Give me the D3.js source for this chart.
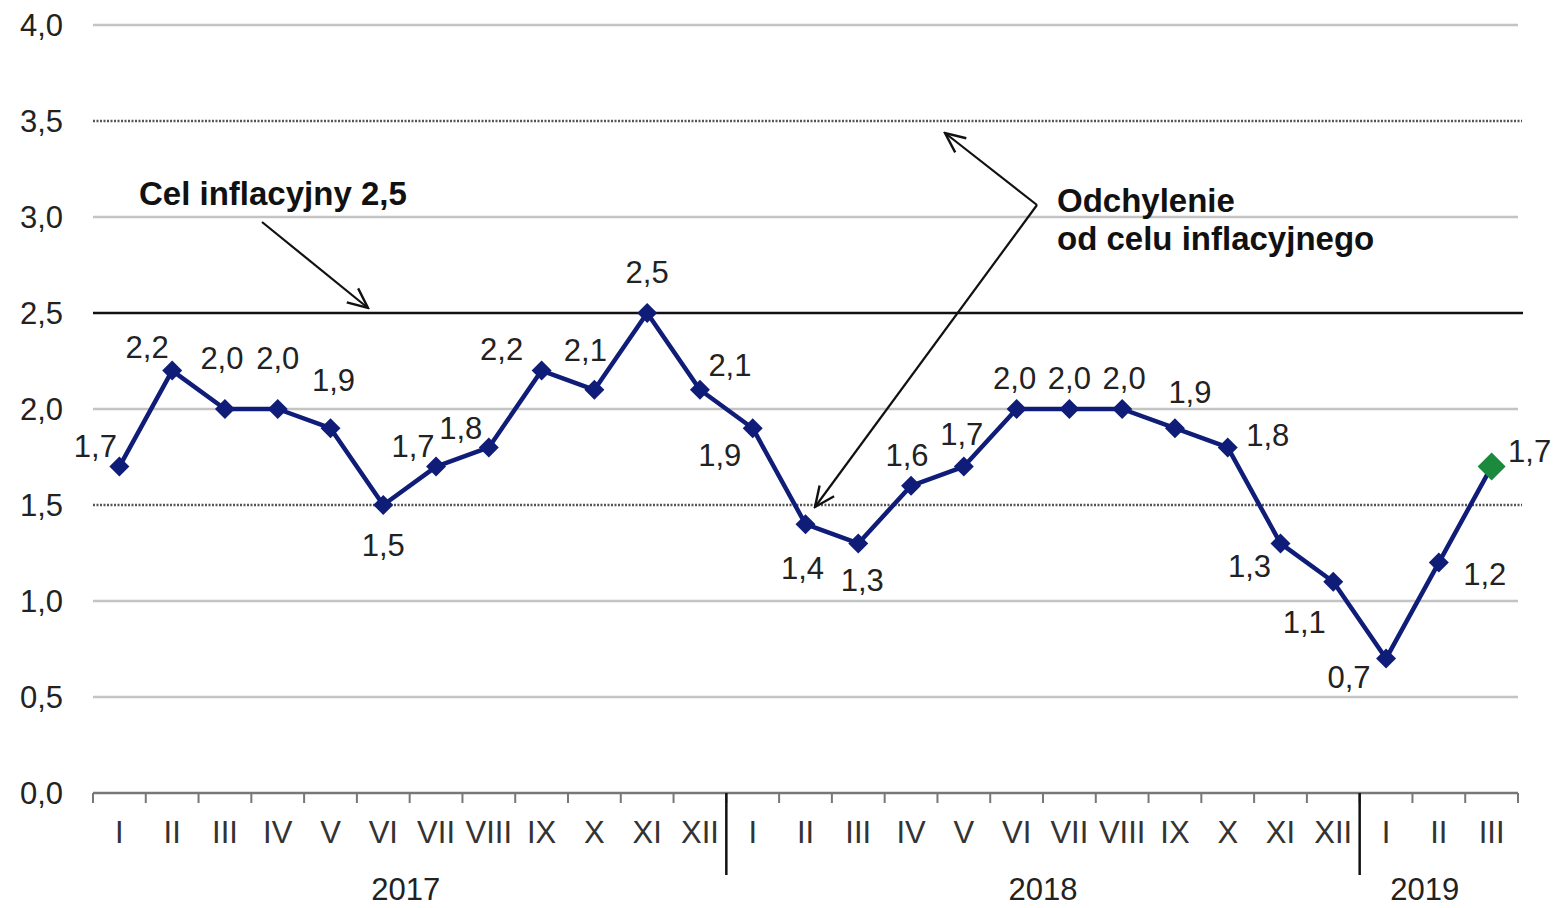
<!DOCTYPE html>
<html><head><meta charset="utf-8">
<script src="https://cdn.jsdelivr.net/npm/d3@7"></script>
<style>body{margin:0;background:#fff}svg{display:block}text{font-family:"Liberation Sans",Arial,sans-serif}</style>
</head><body>
<svg id="c" width="1557" height="908"></svg>
<script>
const months = ["I","II","III","IV","V","VI","VII","VIII","IX","X","XI","XII","I","II","III","IV","V","VI","VII","VIII","IX","X","XI","XII","I","II","III"];
const years = ["2017","2018","2019"];
const yearMonths = [12,12,3];
const values = [1.7,2.2,2.0,2.0,1.9,1.5,1.7,1.8,2.2,2.1,2.5,2.1,1.9,1.4,1.3,1.6,1.7,2.0,2.0,2.0,1.9,1.8,1.3,1.1,0.7,1.2,1.7];
const yTicks = [0,0.5,1,1.5,2,2.5,3,3.5,4];
const target = 2.5;
const bandLines = [1.5,3.5];
// label offsets (px) relative to each point
const labelDx = [-24,-25,-3,0,3,0,-23,-28,-40,-9,0,30,-33,-3,4,-4,-2,-2,0,2,15,40,-31,-29,-37,46,38];
const labelDy = [-20,-23,-51,-51,-48,40,-20,-19,-21,-40,-41,-25,27,44,37,-31,-32,-31,-31,-31,-36,-12,23,40,19,12,-15];

const svg = d3.select("#c");
const L=93, R=1518, T=25, B=793;
const x = d3.scaleBand().domain(d3.range(months.length)).range([L,R]).padding(0);
const y = d3.scaleLinear().domain([0,4]).range([B,T]);
const fmt = v => d3.format(".1f")(v).replace(".",",");
const FS = 31;

// gridlines
svg.append("g").selectAll("line").data(yTicks.filter(t=>t>0 && t!==target && !bandLines.includes(t)))
  .join("line").attr("x1",L).attr("x2",R).attr("y1",d=>y(d)).attr("y2",d=>y(d))
  .attr("stroke","#c4c4c4").attr("stroke-width",2.5);
svg.append("g").selectAll("line").data(bandLines)
  .join("line").attr("x1",L).attr("x2",R+4).attr("y1",d=>y(d)).attr("y2",d=>y(d))
  .attr("stroke","#555").attr("stroke-width",2.5).attr("stroke-dasharray","2,1.5");
svg.append("line").attr("x1",L).attr("x2",R+5).attr("y1",y(target)).attr("y2",y(target))
  .attr("stroke","#111").attr("stroke-width",2.5);

// y labels
svg.append("g").selectAll("text").data(yTicks).join("text")
  .attr("x",63).attr("y",d=>y(d)).attr("dy","0.35em").attr("text-anchor","end")
  .attr("font-size",FS).attr("fill","#222").text(d=>fmt(d));

// x axis
svg.append("line").attr("x1",L).attr("x2",R).attr("y1",B).attr("y2",B).attr("stroke","#777").attr("stroke-width",2.5);
const bounds = d3.range(months.length+1).map(i=> i<months.length ? x(i) : x(months.length-1)+x.bandwidth());
svg.append("g").selectAll("line").data(bounds).join("line")
  .attr("x1",d=>d).attr("x2",d=>d).attr("y1",B).attr("y2",B+10).attr("stroke","#777").attr("stroke-width",2);
svg.append("g").selectAll("text").data(months).join("text")
  .attr("x",(d,i)=>x(i)+x.bandwidth()/2).attr("y",843).attr("text-anchor","middle")
  .attr("font-size",FS).attr("fill","#333").text(d=>d);
// year separators and labels
let acc=0;
const starts=[];
yearMonths.forEach(n=>{starts.push(acc);acc+=n;});
svg.append("g").selectAll("line").data(starts.slice(1)).join("line")
  .attr("x1",d=>x(d)).attr("x2",d=>x(d)).attr("y1",B).attr("y2",875).attr("stroke","#111").attr("stroke-width",2.5);
svg.append("g").selectAll("text").data(years).join("text")
  .attr("x",(d,i)=>{const s=starts[i],e=s+yearMonths[i];return (x(s)+x(e-1)+x.bandwidth())/2+ (i===2?-14:(i===0?-4:0));})
  .attr("y",900).attr("text-anchor","middle").attr("font-size",FS).attr("fill","#222").text(d=>d);

// arrows
const defs = svg.append("defs");
defs.append("marker").attr("id","ah").attr("viewBox","0 0 24 24").attr("refX",22).attr("refY",12)
  .attr("markerWidth",24).attr("markerHeight",24).attr("markerUnits","userSpaceOnUse").attr("orient","auto")
  .append("path").attr("d","M2,3 L22,12 L2,21").attr("fill","none").attr("stroke","#111").attr("stroke-width",2.4);
const arrows = [[262,222,368,308],[1037,205,945,133],[1037,205,815,507]];
svg.append("g").selectAll("line").data(arrows).join("line")
  .attr("x1",d=>d[0]).attr("y1",d=>d[1]).attr("x2",d=>d[2]).attr("y2",d=>d[3])
  .attr("stroke","#111").attr("stroke-width",2.2).attr("marker-end","url(#ah)");
const AFS = 33;
svg.append("text").attr("x",139).attr("y",205).attr("font-size",AFS).attr("font-weight","bold").attr("fill","#111").text("Cel inflacyjny 2,5");
svg.append("text").attr("x",1057).attr("y",212).attr("font-size",AFS).attr("font-weight","bold").attr("fill","#111").text("Odchylenie");
svg.append("text").attr("x",1057).attr("y",250).attr("font-size",AFS).attr("font-weight","bold").attr("fill","#111").text("od celu inflacyjnego");

// series line
const cx = i => x(i)+x.bandwidth()/2;
svg.append("path").datum(values).attr("fill","none").attr("stroke","#0f1d78").attr("stroke-width",4.5)
  .attr("stroke-linejoin","round").attr("d",d3.line().x((d,i)=>cx(i)).y(d=>y(d)));
// markers
svg.append("g").selectAll("path").data(values).join("path")
  .attr("transform",(d,i)=>`translate(${cx(i)},${y(d)})`)
  .attr("d",(d,i)=>{const s=i===values.length-1?14:10;return `M0,${-s}L${s},0L0,${s}L${-s},0Z`;})
  .attr("fill",(d,i)=>i===values.length-1?"#1b8a3c":"#0f1d78");
// data labels
svg.append("g").selectAll("text").data(values).join("text")
  .attr("x",(d,i)=>cx(i)+labelDx[i]).attr("y",(d,i)=>y(d)+labelDy[i]).attr("dy","0.35em")
  .attr("text-anchor","middle").attr("font-size",FS).attr("fill","#222").text(d=>fmt(d));
</script>
</body></html>
